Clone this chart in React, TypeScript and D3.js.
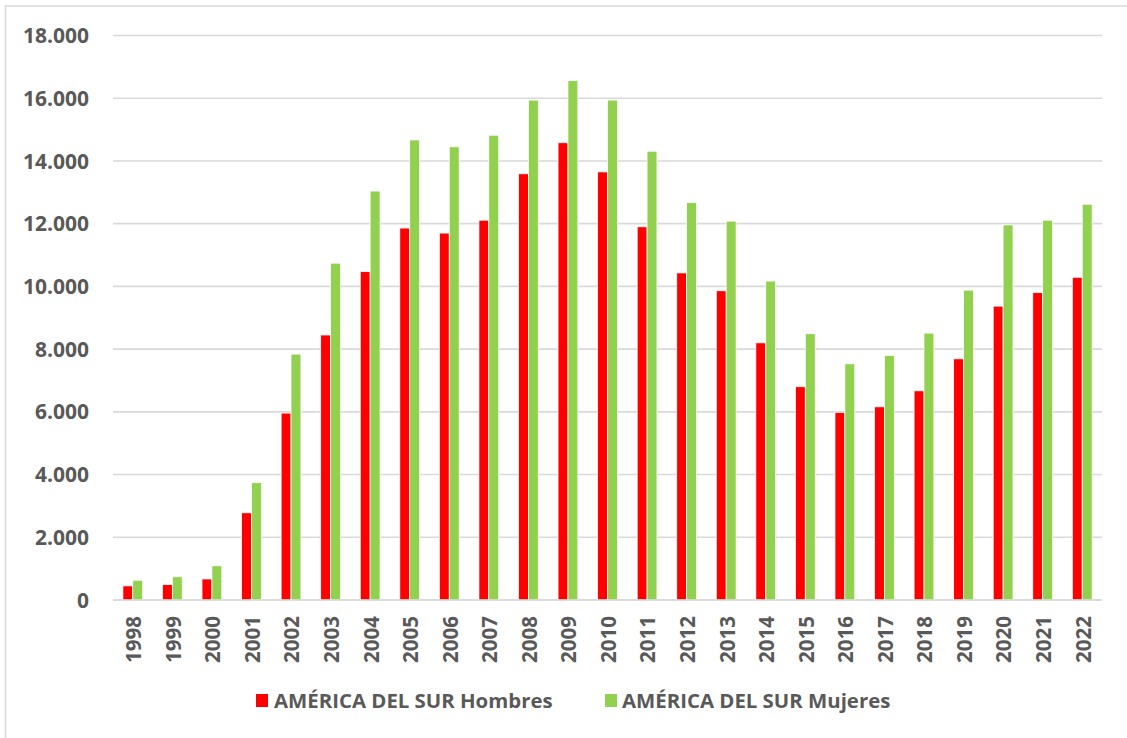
import React from "react";
import * as d3 from "d3";

const years = ["1998","1999","2000","2001","2002","2003","2004","2005","2006","2007","2008","2009","2010","2011","2012","2013","2014","2015","2016","2017","2018","2019","2020","2021","2022"];
const hombres = [450,490,670,2780,5960,8450,10470,11860,11700,12110,13590,14580,13650,11900,10430,9860,8200,6800,5980,6160,6670,7690,9370,9800,10290];
const mujeres = [630,740,1090,3740,7840,10740,13040,14670,14450,14820,15940,16560,15940,14310,12670,12080,10170,8490,7530,7800,8510,9880,11960,12110,12620];
const yTicks = [0,2000,4000,6000,8000,10000,12000,14000,16000,18000];
const seriesNames = ["AMÉRICA DEL SUR Hombres","AMÉRICA DEL SUR Mujeres"];
const colors = ["#ff0000","#92d050"];

const W = 1127, H = 738;
const FONT = "'Open Sans', sans-serif";
const TXT = "#595959";

export default function App() {
  const x = d3.scaleBand<string>().domain(years).range([113, 1102]).paddingInner(0).paddingOuter(0);
  const y = d3.scaleLinear().domain([0, 18000]).range([600, 35.5]);
  const bw = x.bandwidth();
  const fmt = (v: number) => d3.format(",")(v).replace(/,/g, ".");

  return (
    <svg width={W} height={H} style={{ position: "absolute", left: 0, top: 0, background: "#fff" }} fontFamily={FONT}>
      <rect x={5.5} y={6} width={W} height={H} fill="#fff" stroke="#d9d9d9" strokeWidth={1.5} />
      {yTicks.map((t) => (
        <g key={t}>
          <line x1={113} x2={1102} y1={y(t)} y2={y(t)} stroke="#d9d9d9" strokeWidth={1.6} />
          <text x={89} y={y(t)} dy="0.36em" textAnchor="end" fontSize={21} fontWeight={700} fill={TXT}>{fmt(t)}</text>
        </g>
      ))}
      {years.map((yr, i) => {
        const x0 = x(yr)!;
        return (
          <g key={yr}>
            <rect x={x0 + bw / 4} y={y(hombres[i])} width={bw / 4} height={y(0) - y(hombres[i])} fill={colors[0]} stroke="#fff" strokeWidth={0.75} />
            <rect x={x0 + bw / 2} y={y(mujeres[i])} width={bw / 4} height={y(0) - y(mujeres[i])} fill={colors[1]} stroke="#fff" strokeWidth={0.75} />
            <text transform={`translate(${x0 + bw / 2 + 1},${616}) rotate(-90)`} dy="0.36em" textAnchor="end" fontSize={20.5} fontWeight={700} fill={TXT}>{yr}</text>
          </g>
        );
      })}
      <line x1={113} x2={1102} y1={y(0)} y2={y(0)} stroke="#d9d9d9" strokeWidth={1.6} />
      <g>
        <rect x={256} y={694} width={12} height={13} fill={colors[0]} />
        <text x={274} y={701} dy="0.36em" fontSize={20.4} fontWeight={700} fill={TXT}>{seriesNames[0]}</text>
        <rect x={605} y={694} width={12} height={13} fill={colors[1]} />
        <text x={622} y={701} dy="0.36em" fontSize={20.4} fontWeight={700} fill={TXT}>{seriesNames[1]}</text>
      </g>
    </svg>
  );
}
